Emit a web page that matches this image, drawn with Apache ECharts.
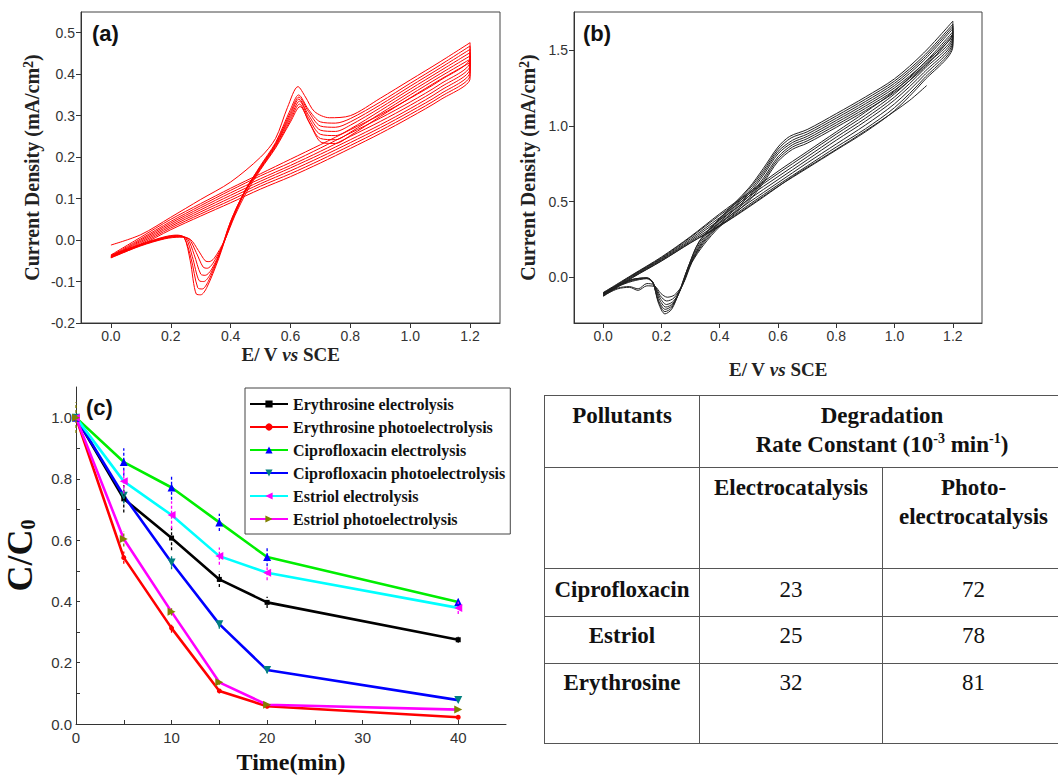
<!DOCTYPE html>
<html>
<head>
<meta charset="utf-8">
<script src="https://cdn.jsdelivr.net/npm/echarts@6.0.0/dist/echarts.min.js"></script>
<style>
  html, body { margin: 0; padding: 0; background: #fff; width: 1058px; height: 775px; overflow: hidden; }
  #main { position: absolute; left: 0; top: 0; width: 1058px; height: 775px; }
  #tbl { position: absolute; left: 544px; top: 395px; width: 520px; border-collapse: collapse; table-layout: fixed; }
  #tbl td { border: 1.5px solid #555; text-align: center; vertical-align: top; padding: 5px 0 0 0; line-height: 29px;
            font-family: "Liberation Serif", "Times New Roman", serif; font-size: 23px; color: #111; }
  #tbl td.b { font-weight: bold; }
  #tbl sup { font-size: 14px; line-height: 0; }
</style>
</head>
<body>
<div id="main"></div>
<table id="tbl">
  <colgroup><col style="width:155px"><col style="width:183px"><col style="width:182px"></colgroup>
  <tr style="height:72px">
    <td class="b">Pollutants</td>
    <td class="b" colspan="2">Degradation<br>Rate Constant (10<sup>-3</sup> min<sup>-1</sup>)</td>
  </tr>
  <tr style="height:101px">
    <td></td>
    <td class="b">Electrocatalysis</td>
    <td class="b">Photo-<br>electrocatalysis</td>
  </tr>
  <tr style="height:48px"><td class="b" style="padding-top:6px">Ciprofloxacin</td><td style="padding-top:6px">23</td><td style="padding-top:6px">72</td></tr>
  <tr style="height:47px"><td class="b" style="padding-top:4px">Estriol</td><td style="padding-top:4px">25</td><td style="padding-top:4px">78</td></tr>
  <tr style="height:80px"><td class="b" style="padding-top:4px">Erythrosine</td><td style="padding-top:4px">32</td><td style="padding-top:4px">81</td></tr>
</table>
<script>
// (a) CV cycles, [E, j]
var cvA1 = [[0,-0.012],[0.1,0.013],[0.2,0.055],[0.3,0.098],[0.4,0.14],[0.5,0.2],[0.55,0.245],[0.59,0.32],[0.625,0.37],[0.65,0.345],[0.68,0.31],[0.73,0.295],[0.8,0.3],[0.9,0.342],[1.0,0.386],[1.1,0.43],[1.2,0.476],
  [1.2,0.44],[1.1,0.385],[1.0,0.342],[0.9,0.302],[0.8,0.266],[0.7,0.23],[0.6,0.195],[0.5,0.16],[0.4,0.125],[0.3,0.088],[0.2,0.05],[0.1,0.007],[0,-0.036]];
var cvA2 = [[0,-0.036],[0.1,-0.01],[0.18,0.008],[0.22,0.012],[0.245,0.006],[0.265,-0.05],[0.285,-0.13],[0.3,-0.132],[0.32,-0.115],[0.36,-0.045],[0.4,0.04],[0.45,0.12],[0.5,0.18],[0.55,0.235],[0.6,0.315],[0.627,0.35],[0.66,0.315],[0.7,0.285],[0.75,0.282],[0.8,0.293],[0.9,0.333],[1.0,0.378],[1.1,0.422],[1.2,0.468],
  [1.2,0.43],[1.1,0.376],[1.0,0.333],[0.9,0.294],[0.8,0.258],[0.7,0.222],[0.6,0.187],[0.5,0.155],[0.4,0.12],[0.3,0.083],[0.2,0.045],[0.1,0.003],[0,-0.038]];
var cvA3 = [[0,-0.038],[0.1,-0.011],[0.18,0.007],[0.22,0.011],[0.245,0.006],[0.268,-0.045],[0.29,-0.115],[0.305,-0.118],[0.325,-0.1],[0.36,-0.04],[0.4,0.045],[0.45,0.122],[0.5,0.178],[0.55,0.232],[0.6,0.308],[0.628,0.345],[0.66,0.31],[0.7,0.275],[0.75,0.272],[0.8,0.285],[0.9,0.326],[1.0,0.371],[1.1,0.415],[1.2,0.46],
  [1.2,0.422],[1.1,0.368],[1.0,0.325],[0.9,0.286],[0.8,0.25],[0.7,0.214],[0.6,0.18],[0.5,0.148],[0.4,0.114],[0.3,0.078],[0.2,0.041],[0.1,0.0],[0,-0.04]];
var cvA4 = [[0,-0.04],[0.1,-0.012],[0.18,0.006],[0.22,0.01],[0.25,0.005],[0.272,-0.04],[0.295,-0.098],[0.31,-0.1],[0.33,-0.085],[0.365,-0.03],[0.4,0.045],[0.45,0.122],[0.5,0.176],[0.55,0.23],[0.6,0.302],[0.628,0.34],[0.66,0.302],[0.7,0.265],[0.75,0.262],[0.8,0.277],[0.9,0.319],[1.0,0.364],[1.1,0.408],[1.2,0.452],
  [1.2,0.414],[1.1,0.36],[1.0,0.317],[0.9,0.278],[0.8,0.242],[0.7,0.207],[0.6,0.174],[0.5,0.142],[0.4,0.108],[0.3,0.073],[0.2,0.037],[0.1,-0.003],[0,-0.04]];
var cvA5 = [[0,-0.04],[0.1,-0.012],[0.18,0.005],[0.225,0.009],[0.255,0.004],[0.278,-0.035],[0.3,-0.082],[0.315,-0.085],[0.335,-0.072],[0.37,-0.02],[0.405,0.05],[0.45,0.12],[0.5,0.174],[0.55,0.228],[0.6,0.296],[0.63,0.335],[0.66,0.295],[0.7,0.255],[0.75,0.252],[0.8,0.268],[0.9,0.312],[1.0,0.357],[1.1,0.401],[1.2,0.444],
  [1.2,0.406],[1.1,0.352],[1.0,0.31],[0.9,0.271],[0.8,0.235],[0.7,0.2],[0.6,0.167],[0.5,0.136],[0.4,0.102],[0.3,0.068],[0.2,0.033],[0.1,-0.006],[0,-0.041]];
var cvA6 = [[0,-0.041],[0.1,-0.013],[0.18,0.004],[0.225,0.008],[0.26,0.003],[0.285,-0.03],[0.308,-0.065],[0.322,-0.068],[0.34,-0.057],[0.375,-0.01],[0.41,0.055],[0.45,0.118],[0.5,0.172],[0.55,0.225],[0.6,0.29],[0.63,0.328],[0.66,0.288],[0.7,0.245],[0.75,0.242],[0.8,0.26],[0.9,0.305],[1.0,0.35],[1.1,0.394],[1.2,0.436],
  [1.2,0.398],[1.1,0.345],[1.0,0.303],[0.9,0.264],[0.8,0.228],[0.7,0.193],[0.6,0.16],[0.5,0.13],[0.4,0.096],[0.3,0.063],[0.2,0.029],[0.1,-0.009],[0,-0.042]];
var cvA7 = [[0,-0.042],[0.1,-0.014],[0.18,0.003],[0.23,0.007],[0.265,0.002],[0.292,-0.025],[0.315,-0.05],[0.328,-0.052],[0.345,-0.044],[0.38,0.0],[0.415,0.06],[0.455,0.118],[0.5,0.17],[0.55,0.222],[0.6,0.285],[0.632,0.322],[0.665,0.28],[0.705,0.235],[0.75,0.233],[0.8,0.252],[0.9,0.298],[1.0,0.343],[1.1,0.387],[1.2,0.428],
  [1.2,0.39],[1.1,0.338],[1.0,0.296],[0.9,0.257],[0.8,0.221],[0.7,0.186],[0.6,0.153],[0.5,0.123],[0.4,0.09],[0.3,0.058],[0.2,0.025],[0.1,-0.012],[0,-0.043]];

// (b) CV cycles, [E, j]
var cvB1 = [[0,-0.12],[0.05,-0.06],[0.1,-0.015],[0.15,-0.002],[0.17,-0.03],[0.19,-0.17],[0.212,-0.24],[0.235,-0.21],[0.26,-0.1],[0.29,0.06],[0.33,0.24],[0.4,0.39],[0.5,0.59],[0.55,0.72],[0.6,0.86],[0.64,0.93],[0.7,0.975],[0.8,1.08],[0.9,1.19],[1.0,1.31],[1.1,1.48],[1.2,1.69],
  [1.2,1.62],[1.1,1.41],[1.0,1.23],[0.9,1.09],[0.8,0.96],[0.7,0.83],[0.6,0.7],[0.5,0.56],[0.4,0.42],[0.3,0.27],[0.2,0.135],[0.1,0.018],[0,-0.1]];
var cvB2 = [[0,-0.1],[0.05,-0.05],[0.1,-0.012],[0.15,-0.003],[0.17,-0.03],[0.19,-0.16],[0.212,-0.225],[0.235,-0.2],[0.262,-0.09],[0.292,0.07],[0.33,0.235],[0.4,0.385],[0.5,0.58],[0.55,0.705],[0.6,0.845],[0.645,0.92],[0.7,0.96],[0.8,1.065],[0.9,1.175],[1.0,1.295],[1.1,1.46],[1.2,1.67],
  [1.2,1.6],[1.1,1.39],[1.0,1.21],[0.9,1.07],[0.8,0.945],[0.7,0.815],[0.6,0.685],[0.5,0.55],[0.4,0.41],[0.3,0.265],[0.2,0.13],[0.1,0.015],[0,-0.105]];
var cvB3 = [[0,-0.105],[0.05,-0.055],[0.1,-0.014],[0.15,-0.004],[0.17,-0.032],[0.19,-0.15],[0.213,-0.21],[0.237,-0.185],[0.265,-0.08],[0.295,0.08],[0.335,0.235],[0.4,0.375],[0.5,0.565],[0.55,0.69],[0.6,0.83],[0.65,0.905],[0.7,0.945],[0.8,1.05],[0.9,1.16],[1.0,1.28],[1.1,1.445],[1.2,1.655],
  [1.2,1.585],[1.1,1.37],[1.0,1.19],[0.9,1.05],[0.8,0.925],[0.7,0.795],[0.6,0.665],[0.5,0.535],[0.4,0.395],[0.3,0.255],[0.2,0.125],[0.1,0.012],[0,-0.108]];
var cvB4 = [[0,-0.108],[0.05,-0.058],[0.1,-0.02],[0.15,-0.006],[0.172,-0.035],[0.192,-0.14],[0.215,-0.195],[0.24,-0.17],[0.268,-0.07],[0.298,0.085],[0.338,0.23],[0.4,0.365],[0.5,0.55],[0.55,0.675],[0.6,0.815],[0.65,0.89],[0.7,0.93],[0.8,1.035],[0.9,1.145],[1.0,1.265],[1.1,1.43],[1.2,1.64],
  [1.2,1.57],[1.1,1.35],[1.0,1.17],[0.9,1.03],[0.8,0.905],[0.7,0.775],[0.6,0.645],[0.5,0.515],[0.4,0.38],[0.3,0.245],[0.2,0.12],[0.1,0.008],[0,-0.11]];
var cvB5 = [[0,-0.11],[0.05,-0.06],[0.1,-0.025],[0.15,-0.008],[0.172,-0.038],[0.194,-0.13],[0.217,-0.178],[0.242,-0.155],[0.27,-0.06],[0.3,0.09],[0.34,0.225],[0.4,0.355],[0.5,0.535],[0.55,0.655],[0.6,0.795],[0.65,0.875],[0.7,0.915],[0.8,1.02],[0.9,1.13],[1.0,1.25],[1.1,1.41],[1.2,1.62],
  [1.2,1.555],[1.1,1.33],[1.0,1.145],[0.9,1.005],[0.8,0.88],[0.7,0.755],[0.6,0.625],[0.5,0.495],[0.4,0.36],[0.3,0.237],[0.2,0.115],[0.1,0.004],[0,-0.115]];
var cvB6 = [[0,-0.115],[0.05,-0.07],[0.09,-0.06],[0.12,-0.075],[0.15,-0.04],[0.175,-0.05],[0.196,-0.12],[0.218,-0.155],[0.243,-0.135],[0.272,-0.05],[0.302,0.095],[0.342,0.22],[0.4,0.345],[0.5,0.52],[0.55,0.64],[0.6,0.78],[0.65,0.86],[0.7,0.9],[0.8,1.005],[0.9,1.115],[1.0,1.235],[1.1,1.395],[1.2,1.605],
  [1.2,1.54],[1.1,1.31],[1.0,1.12],[0.9,0.98],[0.8,0.86],[0.7,0.735],[0.6,0.61],[0.5,0.48],[0.4,0.345],[0.3,0.23],[0.2,0.11],[0.1,0.0],[0,-0.12]];
var cvB7 = [[0,-0.12],[0.05,-0.075],[0.09,-0.065],[0.12,-0.085],[0.15,-0.055],[0.178,-0.06],[0.198,-0.105],[0.22,-0.13],[0.245,-0.115],[0.275,-0.04],[0.305,0.1],[0.345,0.215],[0.4,0.335],[0.5,0.505],[0.55,0.625],[0.6,0.765],[0.65,0.845],[0.7,0.885],[0.8,0.99],[0.9,1.1],[1.0,1.22],[1.1,1.38],[1.2,1.59],
  [1.2,1.525],[1.1,1.295],[1.0,1.1],[0.9,0.96],[0.8,0.84],[0.7,0.72],[0.6,0.6],[0.5,0.47],[0.4,0.34],[0.3,0.228],[0.2,0.108],[0.1,-0.002],[0,-0.125]];
var cvB8 = [[0.36,0.29],[0.45,0.4],[0.55,0.53],[0.65,0.665],[0.75,0.785],[0.85,0.905],[0.95,1.03],[1.05,1.165],[1.11,1.265]];

// (c) degradation, C/C0 vs time
var times = [0, 5, 10, 15, 20, 40];
var eryElec  = [1.0, 0.735, 0.607, 0.472, 0.397, 0.275];
var eryPhoto = [1.0, 0.543, 0.313, 0.108, 0.058, 0.022];
var cipElec  = [1.0, 0.855, 0.772, 0.658, 0.545, 0.398];
var cipPhoto = [1.0, 0.745, 0.527, 0.326, 0.176, 0.078];
var estElec  = [1.0, 0.792, 0.682, 0.548, 0.494, 0.379];
var estPhoto = [1.0, 0.604, 0.366, 0.136, 0.063, 0.047];
// error bars (half width)
var errEryElec  = [0, 0.045, 0.04, 0.025, 0.018, 0.01];
var errEryPhoto = [0, 0.02, 0.015, 0.008, 0.005, 0.005];
var errCipElec  = [0, 0.045, 0.04, 0.028, 0.03, 0.015];
var errCipPhoto = [0, 0.025, 0.022, 0.015, 0.01, 0.008];
var errEstElec  = [0, 0.04, 0.045, 0.028, 0.025, 0.02];
var errEstPhoto = [0.05, 0.025, 0.012, 0.008, 0.005, 0.005];

var legendNames = ['Erythrosine electrolysis', 'Erythrosine photoelectrolysis', 'Ciprofloxacin electrolysis',
  'Ciprofloxacin photoelectrolysis', 'Estriol electrolysis', 'Estriol photoelectrolysis'];
var ticksA_x = [0, 0.2, 0.4, 0.6, 0.8, 1.0, 1.2];
var ticksA_y = [-0.2, -0.1, 0, 0.1, 0.2, 0.3, 0.4, 0.5];
var ticksB_y = [0, 0.5, 1.0, 1.5];
var ticksC_x = [0, 10, 20, 30, 40];
var ticksC_y = [0, 0.2, 0.4, 0.6, 0.8, 1.0];

var SERIF = '"Liberation Serif", "Times New Roman", serif';
var SANS = '"Liberation Sans", Arial, sans-serif';

function cvAxis(grid, min, max, ticks, name, nameGap, isY) {
  return {
    type: 'value', gridIndex: grid, min: min, max: max,
    name: name, nameLocation: 'middle', nameGap: nameGap,
    nameTextStyle: {
      fontFamily: SERIF, fontWeight: 'bold', fontSize: isY ? 20 : 19, color: '#222',
      rich: {
        i: { fontFamily: SERIF, fontWeight: 'bold', fontStyle: 'italic', fontSize: 19, color: '#222' },
        sup: { fontFamily: SERIF, fontWeight: 'bold', fontSize: 14, color: '#222', verticalAlign: 'top', padding: [0, 0, 8, 0] }
      }
    },
    axisLine: { show: true, onZero: false, lineStyle: { color: '#333', width: 1 } },
    axisTick: { show: true, inside: false, length: 5, customValues: ticks, lineStyle: { color: '#333' } },
    axisLabel: {
      customValues: ticks, margin: 6, fontFamily: SANS, fontSize: 14, color: '#333',
      formatter: function (v) { return v.toFixed(1); }
    },
    splitLine: { show: false }
  };
}

function cAxis(grid, min, max, labels, ticks, name, nameGap, isY) {
  return {
    type: 'value', gridIndex: grid, min: min, max: max,
    name: name, nameLocation: 'middle', nameGap: nameGap,
    nameTextStyle: {
      fontFamily: SERIF, fontWeight: 'bold', fontSize: 24, color: '#111',
      rich: {
        m: { fontFamily: SERIF, fontWeight: 'bold', fontSize: 36, color: '#111' },
        s: { fontFamily: SERIF, fontWeight: 'bold', fontSize: 20, color: '#111', verticalAlign: 'bottom' }
      }
    },
    axisLine: { show: true, onZero: false, lineStyle: { color: '#333', width: 1 } },
    axisTick: { show: true, inside: true, length: 4, customValues: ticks, lineStyle: { color: '#333' } },
    axisLabel: {
      customValues: labels, margin: isY ? 4 : 6, fontFamily: SANS, fontSize: 15, color: '#333',
      formatter: function (v) { return isY ? v.toFixed(1) : String(v); }
    },
    splitLine: { show: false }
  };
}

function cvSeries(data, axis, color) {
  return {
    type: 'line', xAxisIndex: axis, yAxisIndex: axis, data: data,
    showSymbol: false, smooth: 0.3, silent: true,
    lineStyle: { color: color, width: 1 }, z: 2
  };
}

function lineSeries(name, vals, lineColor, markColor, symbol, rot, size) {
  return {
    type: 'line', name: name, xAxisIndex: 2, yAxisIndex: 2,
    data: times.map(function (t, i) { return [t, vals[i]]; }),
    symbol: symbol, symbolSize: size, symbolRotate: rot, showSymbol: true,
    itemStyle: { color: markColor }, lineStyle: { color: lineColor, width: 2.6 }, z: 3
  };
}

function errRender(params, api) {
  var p1 = api.coord([api.value(0), api.value(1)]);
  var p2 = api.coord([api.value(0), api.value(2)]);
  return {
    type: 'line',
    shape: { x1: p1[0], y1: p1[1], x2: p2[0], y2: p2[1] },
    style: { stroke: api.visual('color'), lineWidth: 1.3, lineDash: [3, 2] }
  };
}

function errSeries(vals, errs, color) {
  var d = [];
  for (var i = 0; i < times.length; i++) {
    if (errs[i] > 0) d.push([times[i], vals[i] - errs[i], vals[i] + errs[i]]);
  }
  return {
    type: 'custom', xAxisIndex: 2, yAxisIndex: 2, data: d, renderItem: errRender,
    encode: { x: 0, y: [1, 2] }, itemStyle: { color: color }, silent: true, z: 4
  };
}

var chart = echarts.init(document.getElementById('main'), null, { renderer: 'svg' });

var series = [];
[cvA1, cvA2, cvA3, cvA4, cvA5, cvA6, cvA7].forEach(function (d) { series.push(cvSeries(d, 0, '#ff0000')); });
[cvB1, cvB2, cvB3, cvB4, cvB5, cvB6, cvB7, cvB8].forEach(function (d) { series.push(cvSeries(d, 1, '#222222')); });

series.push(lineSeries(legendNames[0], eryElec, '#000000', '#000000', 'rect', 0, 5));
series.push(lineSeries(legendNames[1], eryPhoto, '#ff0000', '#ff0000', 'circle', 0, 5));
series.push(lineSeries(legendNames[2], cipElec, '#00ee00', '#0000ff', 'triangle', 0, 8));
series.push(lineSeries(legendNames[3], cipPhoto, '#0000ff', '#008080', 'triangle', 180, 8));
series.push(lineSeries(legendNames[4], estElec, '#00ffff', '#ff00ff', 'triangle', 90, 8));
series.push(lineSeries(legendNames[5], estPhoto, '#ff00ff', '#808000', 'triangle', -90, 8));

series.push(errSeries(eryElec, errEryElec, '#000000'));
series.push(errSeries(eryPhoto, errEryPhoto, '#ff0000'));
series.push(errSeries(cipElec, errCipElec, '#0000ff'));
series.push(errSeries(cipPhoto, errCipPhoto, '#008080'));
series.push(errSeries(estElec, errEstElec, '#ff00ff'));
series.push(errSeries(estPhoto, errEstPhoto, '#808000'));

chart.setOption({
  animation: false,
  backgroundColor: '#fff',
  grid: [
    { left: 81, top: 12, width: 419, height: 311, show: true, borderColor: '#444', borderWidth: 1 },
    { left: 574, top: 12, width: 408, height: 311, show: true, borderColor: '#444', borderWidth: 1 },
    { left: 76, top: 387, width: 430, height: 340 }
  ],
  xAxis: [
    cvAxis(0, -0.1, 1.3, ticksA_x, 'E/ V {i|vs} SCE', 22, false),
    cvAxis(1, -0.1, 1.3, ticksA_x, 'E/ V {i|vs} SCE', 37, false),
    cAxis(2, 0, 45, ticksC_x, [0, 5, 10, 15, 20, 25, 30, 35, 40], 'Time(min)', 26, false)
  ],
  yAxis: [
    cvAxis(0, -0.2, 0.55, ticksA_y, 'Current Density (mA/cm{sup|2})', 38, true),
    cvAxis(1, -0.3, 1.75, ticksB_y, 'Current Density (mA/cm{sup|2})', 35, true),
    cAxis(2, 0, 1.1, ticksC_y, [0, 0.1, 0.2, 0.3, 0.4, 0.5, 0.6, 0.7, 0.8, 0.9, 1.0], '{m|C/C}{s|0}', 38, true)
  ],
  legend: {
    data: legendNames, orient: 'vertical', left: 245, top: 388,
    itemWidth: 38, itemHeight: 9, itemGap: 7,
    borderColor: '#444', borderWidth: 1, padding: [8, 5, 7, 4],
    textStyle: { fontFamily: SERIF, fontWeight: 'bold', fontSize: 16, color: '#111' }
  },
  graphic: [
    { type: 'text', left: 92, top: 22, style: { text: '(a)', font: 'bold 22px "Liberation Sans", Arial, sans-serif', fill: '#111' } },
    { type: 'text', left: 583, top: 22, style: { text: '(b)', font: 'bold 22px "Liberation Sans", Arial, sans-serif', fill: '#111' } },
    { type: 'text', left: 86, top: 396, style: { text: '(c)', font: 'bold 22px "Liberation Sans", Arial, sans-serif', fill: '#111' } }
  ],
  series: series
});
</script>
</body>
</html>
